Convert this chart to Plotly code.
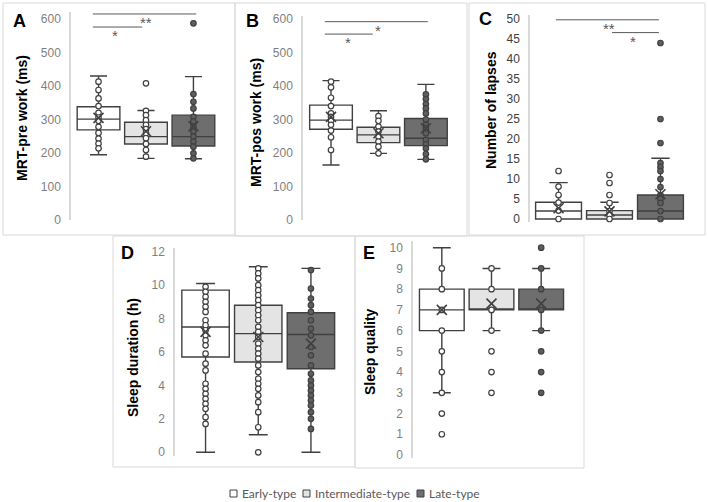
import plotly.graph_objects as go

W, H = 708, 502

groups = ["Early-type", "Intermediate-type", "Late-type"]
box_fill = ["#ffffff", "#e4e4e4", "#6e6e6e"]
pt_fill = ["#ffffff", "#ffffff", "#5e5e5e"]
edge = "#404040"
frame_col = "#d9d9d9"

# ---- A: MRT-pre work (ms)
a_q1 = [269, 227, 221]
a_med = [301, 249, 249]
a_q3 = [338, 292, 313]
a_lo = [195, 184, 183]
a_hi = [430, 327, 428]
a_mean = [305, 265, 280]
a_early = [413, 388, 363, 340, 320, 306, 296, 278, 260, 243, 228, 214]
a_inter = [408, 326, 313, 298, 284, 271, 259, 244, 227, 209, 189]
a_late = [587, 376, 353, 333, 308, 294, 279, 264, 249, 234, 219, 199, 184]

# ---- B: MRT-pos work (ms)
b_q1 = [271, 231, 222]
b_med = [298, 254, 244]
b_q3 = [343, 277, 303]
b_lo = [164, 199, 181]
b_hi = [416, 326, 405]
b_mean = [308, 259, 274]
b_early = [413, 396, 365, 340, 318, 308, 296, 284, 267, 247, 209]
b_inter = [310, 296, 279, 264, 249, 234, 219, 199]
b_late = [375, 361, 346, 333, 318, 300, 284, 274, 259, 239, 226, 214, 197, 181]

# ---- C: Number of lapses
c_q1 = [0, 0, 0]
c_med = [2, 1, 2]
c_q3 = [4.2, 2.1, 6]
c_lo = [0, 0, 0]
c_hi = [9.1, 4.2, 15.2]
c_mean = [2.7, 1.9, 6.2]
c_early = [12, 8.1, 6, 4.1, 2.1, 0]
c_inter = [11, 9, 6, 4, 2, 1, 0]
c_late = [44, 25, 19, 14, 13, 12, 10, 8, 6, 5, 4, 2, 0]

# ---- D: Sleep duration (h)
d_q1 = [5.7, 5.4, 5.0]
d_med = [7.5, 7.1, 7.05]
d_q3 = [9.7, 8.8, 8.35]
d_lo = [0, 1.05, 0]
d_hi = [10.1, 11.1, 11.0]
d_mean = [7.2, 6.9, 6.5]
d_early = [9.9, 9.6, 9.3, 9.0, 8.7, 8.4, 7.9, 7.6, 7.3, 7.0, 6.7, 6.4, 5.9, 5.3,
           4.9, 4.1, 3.8, 3.5, 3.2, 2.9, 2.6, 2.1, 1.7]
d_inter = [11.0, 10.7, 10.4, 10.0, 9.7, 9.4, 9.1, 8.8, 8.5, 8.2, 7.9, 7.5, 7.2,
           6.9, 6.5, 6.2, 5.9, 5.6, 5.2, 4.8, 4.4, 4.1, 3.8, 3.4, 3.0, 2.4, 1.5, 0]
d_late = [10.9, 9.8, 9.2, 8.8, 8.4, 7.9, 7.4, 7.0, 6.3, 5.8, 5.2, 4.7, 4.3, 4.0,
          3.7, 3.4, 3.1, 2.8, 2.4, 2.0, 1.4]

# ---- E: Sleep quality
e_q1 = [6, 7, 7]
e_med = [7, 7, 7]
e_q3 = [8, 8, 8]
e_lo = [3, 6, 6]
e_hi = [10, 9, 9]
e_mean = [7.0, 7.3, 7.3]
e_early = [1, 2, 3, 4, 5, 6, 7, 8, 9]
e_inter = [3, 4, 5, 6, 7, 8, 9]
e_late = [3, 4, 5, 6, 7, 8, 9, 10]

panels = [
    dict(letter="A", title="MRT-pre work (ms)",
         stats=(a_q1, a_med, a_q3, a_lo, a_hi, a_mean), pts=(a_early, a_inter, a_late),
         xpix=(71, 220), xr=(0.42, 3.56), ypix=(220, 19), yv=(0, 600), yr=(0, 620), dtick=100,
         tickcol="#7f7f7f", letter_xy=(19, 21), title_xy=(22, 118),
         frame=(3, 3, 235, 235),
         sig=[(0.88, 3.06, 615, "**", 2.0), (0.88, 1.92, 576, "*", 1.35)]),
    dict(letter="B", title="MRT-pos work (ms)",
         stats=(b_q1, b_med, b_q3, b_lo, b_hi, b_mean), pts=(b_early, b_inter, b_late),
         xpix=(303, 452), xr=(0.41, 3.55), ypix=(220, 19), yv=(0, 600), yr=(0, 610), dtick=100,
         tickcol="#7f7f7f", letter_xy=(252, 21), title_xy=(256, 123),
         frame=(235, 3, 467, 236),
         sig=[(0.87, 3.04, 592, "*", 1.99), (0.87, 1.88, 555, "*", 1.36)]),
    dict(letter="C", title="Number of lapses",
         stats=(c_q1, c_med, c_q3, c_lo, c_hi, c_mean), pts=(c_early, c_inter, c_late),
         xpix=(530, 689), xr=(0.44, 3.56), ypix=(219, 19), yv=(0, 50), yr=(-0.8, 51), dtick=5,
         tickcol="#404040", letter_xy=(486, 19), title_xy=(491, 110),
         frame=(469, 3, 705, 235),
         sig=[(0.95, 2.97, 49.8, "**", 1.99), (2.05, 2.97, 46.6, "*", 2.46)]),
    dict(letter="D", title="Sleep duration (h)",
         stats=(d_q1, d_med, d_q3, d_lo, d_hi, d_mean), pts=(d_early, d_inter, d_late),
         xpix=(175, 341.5), xr=(0.42, 3.58), ypix=(452.3, 251.7), yv=(0, 12), yr=(-0.2, 12.2), dtick=2,
         tickcol="#7f7f7f", letter_xy=(127, 253), title_xy=(133, 358),
         frame=(113, 236, 355, 467), sig=[]),
    dict(letter="E", title="Sleep quality",
         stats=(e_q1, e_med, e_q3, e_lo, e_hi, e_mean), pts=(e_early, e_inter, e_late),
         xpix=(413, 570), xr=(0.42, 3.58), ypix=(455, 247.7), yv=(0, 10), yr=(-0.15, 10.3), dtick=1,
         tickcol="#7f7f7f", letter_xy=(369, 253), title_xy=(370, 352),
         frame=(355, 236, 584, 468), sig=[]),
]

fig = go.Figure()
shapes = []
annotations = []
font_family = "Liberation Sans, Arial, sans-serif"

for i, p in enumerate(panels):
    n = "" if i == 0 else str(i + 1)
    xa, ya = "x" + n, "y" + n
    q1, med, q3, lo, hi, mean = p["stats"]
    for k in range(3):
        fig.add_trace(go.Box(
            x=[k + 1], q1=[q1[k]], median=[med[k]], q3=[q3[k]],
            lowerfence=[lo[k]], upperfence=[hi[k]],
            width=0.9, whiskerwidth=0.4, boxpoints=False,
            fillcolor=box_fill[k], line=dict(color=edge, width=1.4),
            showlegend=False, hoverinfo="skip", xaxis=xa, yaxis=ya))
    for k in range(3):
        vals = p["pts"][k]
        fig.add_trace(go.Scatter(
            x=[k + 1] * len(vals), y=vals, mode="markers",
            marker=dict(size=5.5, color=pt_fill[k], line=dict(color=edge, width=1.2)),
            cliponaxis=False, showlegend=False, xaxis=xa, yaxis=ya))
    fig.add_trace(go.Scatter(
        x=[1, 2, 3], y=mean, mode="markers",
        marker=dict(symbol="x-thin", size=10, line=dict(color=edge, width=1.6)),
        cliponaxis=False, showlegend=False, xaxis=xa, yaxis=ya))

    # axes placement (pixel -> paper)
    p0, p1 = p["ypix"]
    v0, v1 = p["yv"]
    scale = (p0 - p1) / (v1 - v0)
    rmin, rmax = p["yr"]
    bot = p0 + (v0 - rmin) * scale
    top = p0 - (rmax - v0) * scale
    fig.layout["xaxis" + n] = dict(
        domain=[p["xpix"][0] / W, p["xpix"][1] / W], range=list(p["xr"]),
        visible=False, anchor=ya, fixedrange=True, automargin=False)
    fig.layout["yaxis" + n] = dict(
        domain=[1 - bot / H, 1 - top / H], range=[rmin, rmax], anchor=xa,
        tickvals=list(range(0, v1 + 1, p["dtick"])), automargin=False, fixedrange=True,
        showgrid=False, zeroline=False, showline=True, linecolor="#d9d9d9", linewidth=1.5,
        ticks="outside", ticklen=6, tickcolor="rgba(0,0,0,0)",
        tickfont=dict(family=font_family, size=12, color=p["tickcol"]))

    # frame
    fx0, fy0, fx1, fy1 = p["frame"]
    shapes.append(dict(type="rect", xref="paper", yref="paper",
                       x0=fx0 / W, x1=fx1 / W, y0=1 - fy1 / H, y1=1 - fy0 / H,
                       line=dict(color=frame_col, width=1), layer="below"))

    # significance bars
    for (sx0, sx1, sy, txt, tx) in p["sig"]:
        shapes.append(dict(type="line", xref=xa, yref=ya, x0=sx0, x1=sx1, y0=sy, y1=sy,
                           line=dict(color="#595959", width=1)))
        annotations.append(dict(text=txt, xref=xa, yref=ya, x=tx, y=sy,
                                xanchor="center", yanchor="top",
                                showarrow=False, yshift=2,
                                font=dict(family=font_family, size=15, color="#595959")))

    # letter and axis title
    lx, ly = p["letter_xy"]
    annotations.append(dict(text="<b>%s</b>" % p["letter"], xref="paper", yref="paper",
                            x=lx / W, y=1 - ly / H, xanchor="center", yanchor="middle",
                            showarrow=False,
                            font=dict(family=font_family, size=18, color="#000000")))
    tx_, ty_ = p["title_xy"]
    annotations.append(dict(text="<b>%s</b>" % p["title"], xref="paper", yref="paper",
                            x=tx_ / W, y=1 - ty_ / H, xanchor="center", yanchor="middle",
                            textangle=-90, showarrow=False,
                            font=dict(family=font_family, size=14, color="#000000")))

# legend drawn by hand
leg_sq = [230, 303, 417]
for k, g in enumerate(groups):
    x0 = leg_sq[k]
    shapes.append(dict(type="rect", xref="paper", yref="paper",
                       x0=x0 / W, x1=(x0 + 7) / W, y0=1 - 497 / H, y1=1 - 490 / H,
                       fillcolor=box_fill[k], line=dict(color=edge, width=1)))
    annotations.append(dict(text=g, xref="paper", yref="paper", x=(x0 + 10) / W, y=1 - 493.5 / H,
                            xanchor="left", yanchor="middle", showarrow=False,
                            font=dict(family="Lato, sans-serif", size=12, color="#595959")))

fig.update_layout(
    width=W, height=H, margin=dict(l=0, r=0, t=0, b=0, autoexpand=False),
    paper_bgcolor="white", plot_bgcolor="rgba(0,0,0,0)",
    boxmode="overlay", showlegend=False, hovermode=False,
    shapes=shapes, annotations=annotations)

# page has a default 8px body margin; drop it so the figure sits at the corner
fig.write_html("out.html", config={"displayModeBar": False},
               post_script="document.body.style.margin='0';")
